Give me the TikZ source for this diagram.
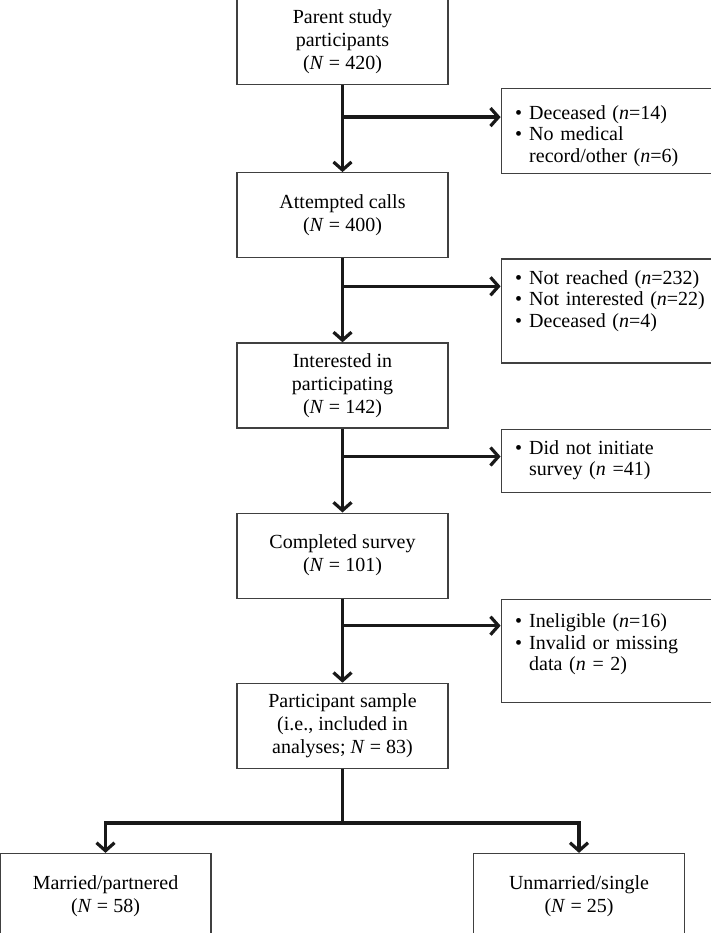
\documentclass[tikz,border=0pt]{standalone}
\usepackage{fontspec}
\setmainfont{Liberation Serif}
\usetikzlibrary{positioning,arrows.meta}

\begin{document}
\begin{tikzpicture}[x=1pt,y=1pt,node distance=84pt,
font=\fontsize{20}{23}\selectfont,
mainbox/.style={rectangle,draw=black!75,line width=1.2pt,minimum width=211pt,minimum height=85pt,align=center,inner sep=2pt},
sidebox/.style={rectangle,draw=black!75,line width=1.2pt,text width=182pt,inner xsep=14pt,inner ysep=10pt,align=left,font=\fontsize{20}{21.7}\selectfont},
flow/.style={draw=black!90,line width=3.2pt,-{Straight Barb[length=8pt,width=18pt]}}]
\useasboundingbox (0,0) rectangle (711,-933);
\node[mainbox] (parent) at (342.5,-42) {Parent study\\participants\\(\textit{N} = 420)};
\node[mainbox, below=87pt of parent] (calls) {Attempted calls\\(\textit{N} = 400)};
\node[mainbox, below=of calls] (interested) {Interested in\\participating\\(\textit{N} = 142)};
\node[mainbox, below=of interested] (completed) {Completed survey\\(\textit{N} = 101)};
\node[mainbox, below=of completed] (sample) {Participant sample\\(i.e., included in\\analyses; \textit{N} = 83)};
\node[mainbox, below=of sample, xshift=-237pt] (married) {Married/partnered\\(\textit{N} = 58)};
\node[mainbox, below=of sample, xshift=236.5pt] (unmarried) {Unmarried/single\\(\textit{N} = 25)};

\node[sidebox, minimum height=85pt, inner ysep=4pt, below right=3pt and 52pt of parent] (dropped1) {%
\begin{tabular}{@{}l@{\hspace{7pt}}l@{}}
\rule{0pt}{26pt}\textbullet & Deceased (\textit{n}=14)\\
\textbullet & No medical\\
 & record/other (\textit{n}=6)
\end{tabular}};
\node[sidebox, below right=0pt and 52pt of calls] (dropped2) {%
\begin{tabular}{@{}l@{\hspace{7pt}}l@{}}
\textbullet & Not reached (\textit{n}=232)\\
\textbullet & Not interested (\textit{n}=22)\\
\textbullet & Deceased (\textit{n}=4)\\[19pt]
\end{tabular}};
\node[sidebox, below right=0pt and 52pt of interested] (dropped3) {%
\begin{tabular}{@{}l@{\hspace{7pt}}l@{}}
\textbullet & Did not initiate\\
 & survey (\textit{n} =41)
\end{tabular}};
\node[sidebox, minimum height=103pt, below right=0pt and 52pt of completed] (dropped4) {%
\begin{tabular}{@{}l@{\hspace{7pt}}l@{}}
\textbullet & Ineligible (\textit{n}=16)\\
\textbullet & Invalid or missing\\
 & data (\textit{n} = 2)\\[12pt]
\end{tabular}};

\coordinate (d1) at ([yshift=-29pt]dropped1.north west);
\coordinate (d2) at ([yshift=-28pt]dropped2.north west);
\coordinate (d3) at ([yshift=-28pt]dropped3.north west);
\coordinate (d4) at ([yshift=-27pt]dropped4.north west);
\coordinate (split) at ([yshift=-54pt]sample.south);

\draw[flow] (parent.south) -- (calls.north);
\draw[flow] (parent.south |- d1) -- (d1);
\draw[flow] (calls.south) -- (interested.north);
\draw[flow] (calls.south |- d2) -- (d2);
\draw[flow] (interested.south) -- (completed.north);
\draw[flow] (interested.south |- d3) -- (d3);
\draw[flow] (completed.south) -- (sample.north);
\draw[flow] (completed.south |- d4) -- (d4);
\draw[flow] (sample.south) -- (split) -| (married.north);
\draw[flow] (split) -| (unmarried.north);
\end{tikzpicture}
\end{document}
